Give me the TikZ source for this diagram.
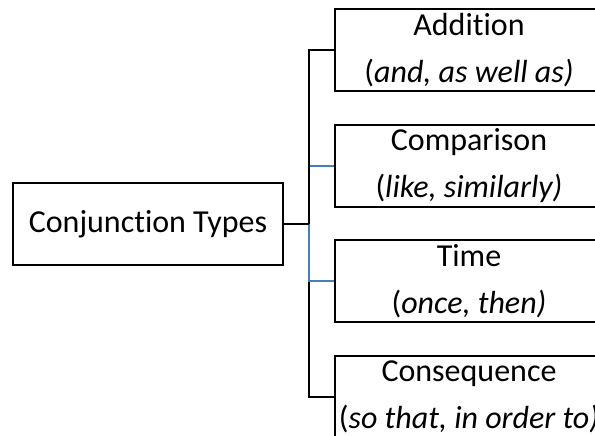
\documentclass[tikz,border=0pt]{standalone}
\usepackage{fontspec}
\setmainfont{Carlito}[Ligatures=NoCommon]
\usepackage{tikz}
\definecolor{linkblue}{RGB}{74,126,187}

\begin{document}
\begin{tikzpicture}[x=1pt, y=-1pt, line width=2pt,
		box/.style={draw, align=center, minimum height=82pt, inner sep=0pt, font=\fontsize{32}{47}\selectfont}]
		\clip (0, 0) rectangle (595, 436);
		
		\node[box, minimum width=270pt] (0) at (148, 224) {Conjunction Types};
		
		\node[box, minimum width=268pt] (1) at (469, 50) {Addition\\(\textit{and, as well as)}};
		\node[box, minimum width=268pt] (2) at (469, 166) {Comparison\\(\textit{like, similarly)}};
		\node[box, minimum width=268pt] (3) at (469, 281) {Time\\(\textit{once, then)}};
		\node[box, minimum width=268pt] (4) at (469, 397) {Consequence\\(\textit{so that, in order to)}};
		
		\coordinate (5) at (309, 224);
		
		\draw[linkblue] (0) -- (5) |- (2);
		\draw (0) -- (5) |- (1);
		\draw (0) -- (5) |- (4);
		\draw[linkblue] (5) |- (3);
		\draw (0) -- (5);
\end{tikzpicture}
\end{document}
